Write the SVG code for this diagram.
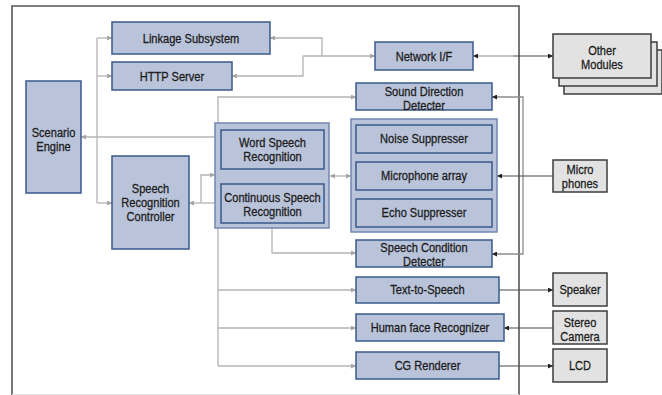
<svg xmlns="http://www.w3.org/2000/svg" width="662" height="395" viewBox="0 0 662 395">
<style>
.n{fill:#b9c3d9;stroke:#3a5a8c;stroke-width:1.5}
.g{fill:#b9c3d9;stroke:#7088b0;stroke-width:1.5}
.x{fill:#e2e2e2;stroke:#3c3c3c;stroke-width:1.5}
.t{font-family:"Liberation Sans",Arial,sans-serif;font-size:13.5px;fill:#1c1c1c;stroke:#1c1c1c;stroke-width:0.3;text-anchor:middle}
.c{fill:none;stroke:#b4b4b4;stroke-width:1.3}
.d{fill:none;stroke:#4a4a4a;stroke-width:1.2}
.m{fill:none;stroke:#8c8c8c;stroke-width:1.3}
</style>
<defs>
<marker id="ag" viewBox="0 0 10 10" refX="10" refY="5" markerWidth="6" markerHeight="5" markerUnits="userSpaceOnUse" orient="auto-start-reverse"><path d="M0 0L10 5L0 10z" fill="#a4a4a4"/></marker>
<marker id="ad" viewBox="0 0 10 10" refX="10" refY="5" markerWidth="6" markerHeight="5" markerUnits="userSpaceOnUse" orient="auto-start-reverse"><path d="M0 0L10 5L0 10z" fill="#222"/></marker>
</defs>
<rect width="662" height="395" fill="#fff"/>
<g id="frame">
<path d="M12 395V6H519V395" fill="none" stroke="#555" stroke-width="1.6"/>
<path d="M12 394.5H519" stroke="#e4e4e4" stroke-width="1"/>
</g>
<g id="connectors">
<path class="c" d="M97 38V203"/>
<path class="c" d="M97 38H112" marker-end="url(#ag)"/>
<path class="c" d="M97 76H112" marker-end="url(#ag)"/>
<path class="c" d="M97 203H112" marker-end="url(#ag)"/>
<path class="c" d="M215 137H81" marker-end="url(#ag)"/>
<path class="c" d="M215 203H189" marker-end="url(#ag)"/>
<path class="c" d="M201 203V175H215" marker-end="url(#ag)"/>
<path class="c" d="M330 176H351" marker-start="url(#ag)" marker-end="url(#ag)"/>
<path class="c" d="M218 123V97H356" marker-end="url(#ag)"/>
<path class="c" d="M272 228V253H356" marker-end="url(#ag)"/>
<path class="c" d="M218 228V366"/>
<path class="c" d="M218 290H356" marker-end="url(#ag)"/>
<path class="c" d="M218 328H356" marker-end="url(#ag)"/>
<path class="c" d="M218 366H356" marker-end="url(#ag)"/>
<path class="c" d="M270 38H322V56" marker-start="url(#ag)"/>
<path class="c" d="M232 76H303V56H375" marker-start="url(#ag)" marker-end="url(#ag)"/>
<path class="c" d="M473 56H513" marker-start="url(#ad)"/>
<path class="d" d="M513 56H553" marker-end="url(#ad)"/>
<path class="m" d="M492 97H523V254H492" marker-start="url(#ad)" marker-end="url(#ad)"/>
<path class="d" d="M553 176H497" marker-end="url(#ad)"/>
<path class="d" d="M499 290H553" marker-end="url(#ad)"/>
<path class="d" d="M553 328H504" marker-end="url(#ad)"/>
<path class="d" d="M499 366H553" marker-end="url(#ad)"/>
</g>
<g id="linkage"><rect class="n" x="112" y="22" width="158" height="32"/><text class="t" transform="translate(191 0) scale(.82 1)" y="43">Linkage Subsystem</text></g>
<g id="http"><rect class="n" x="112" y="62" width="120" height="28"/><text class="t" transform="translate(172 0) scale(.82 1)" y="81">HTTP Server</text></g>
<g id="scenario"><rect class="n" x="26" y="81" width="55" height="112"/><text class="t" transform="translate(53.5 0) scale(.82 1)"><tspan x="0" y="137">Scenario</tspan><tspan x="0" y="151">Engine</tspan></text></g>
<g id="src"><rect class="n" x="112" y="156" width="77" height="93"/><text class="t" transform="translate(150.5 0) scale(.82 1)"><tspan x="0" y="193">Speech</tspan><tspan x="0" y="207">Recognition</tspan><tspan x="0" y="221">Controller</tspan></text></g>
<g id="speechgroup"><rect class="g" x="215" y="123" width="114" height="105"/></g>
<g id="word"><rect class="n" x="221" y="130" width="103" height="39"/><text class="t" transform="translate(272.5 0) scale(.82 1)"><tspan x="0" y="147.5">Word Speech</tspan><tspan x="0" y="161.5">Recognition</tspan></text></g>
<g id="continuous"><rect class="n" x="221" y="184" width="103" height="39"/><text class="t" transform="translate(272.5 0) scale(.82 1)"><tspan x="0" y="202">Continuous Speech</tspan><tspan x="0" y="216">Recognition</tspan></text></g>
<g id="network"><rect class="n" x="375" y="42" width="98" height="28"/><text class="t" transform="translate(424 0) scale(.82 1)" y="61">Network I/F</text></g>
<g id="sounddir"><rect class="n" x="356" y="83" width="136" height="27"/><text class="t" transform="translate(424 0) scale(.82 1)"><tspan x="0" y="96">Sound Direction</tspan><tspan x="0" y="110">Detecter</tspan></text></g>
<g id="micgroup"><rect class="g" x="351" y="119" width="146" height="113"/></g>
<g id="noise"><rect class="n" x="356" y="125" width="136" height="28"/><text class="t" transform="translate(424 0) scale(.82 1)" y="143.5">Noise Suppresser</text></g>
<g id="micarray"><rect class="n" x="356" y="162" width="136" height="28"/><text class="t" transform="translate(424 0) scale(.82 1)" y="180.5">Microphone array</text></g>
<g id="echo"><rect class="n" x="356" y="199" width="136" height="28"/><text class="t" transform="translate(424 0) scale(.82 1)" y="217.5">Echo Suppresser</text></g>
<g id="speechcond"><rect class="n" x="356" y="240" width="136" height="27"/><text class="t" transform="translate(424 0) scale(.82 1)"><tspan x="0" y="252.5">Speech Condition</tspan><tspan x="0" y="266.5">Detecter</tspan></text></g>
<g id="tts"><rect class="n" x="356" y="277" width="143" height="26"/><text class="t" transform="translate(427.5 0) scale(.82 1)" y="294.5">Text-to-Speech</text></g>
<g id="face"><rect class="n" x="356" y="314" width="148" height="27"/><text class="t" transform="translate(430 0) scale(.82 1)" y="332">Human face Recognizer</text></g>
<g id="cg"><rect class="n" x="356" y="352" width="143" height="27"/><text class="t" transform="translate(427.5 0) scale(.82 1)" y="370">CG Renderer</text></g>
<g id="othermodules">
<rect class="x" x="564" y="50" width="98" height="44"/>
<rect class="x" x="559" y="42" width="98" height="44"/>
<rect class="x" x="553" y="34" width="98" height="44"/>
<text class="t" transform="translate(602 0) scale(.82 1)"><tspan x="0" y="55.5">Other</tspan><tspan x="0" y="69.5">Modules</tspan></text>
</g>
<g id="microphones"><rect class="x" x="553" y="160" width="54" height="32"/><text class="t" transform="translate(580 0) scale(.82 1)"><tspan x="0" y="174">Micro</tspan><tspan x="0" y="188">phones</tspan></text></g>
<g id="speaker"><rect class="x" x="553" y="273" width="54" height="33"/><text class="t" transform="translate(580 0) scale(.82 1)" y="294">Speaker</text></g>
<g id="camera"><rect class="x" x="553" y="311" width="54" height="33"/><text class="t" transform="translate(580 0) scale(.82 1)"><tspan x="0" y="327">Stereo</tspan><tspan x="0" y="341">Camera</tspan></text></g>
<g id="lcd"><rect class="x" x="553" y="349" width="54" height="33"/><text class="t" transform="translate(580 0) scale(.82 1)" y="370">LCD</text></g>
</svg>
